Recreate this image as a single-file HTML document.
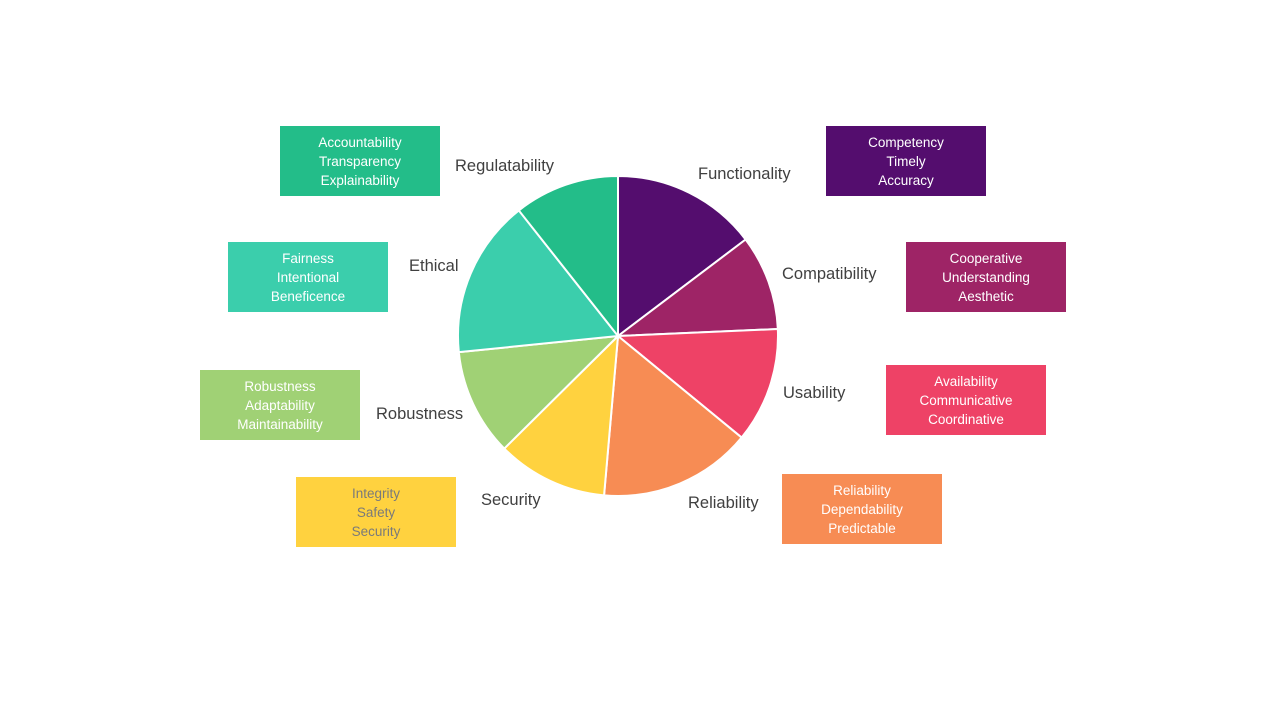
<!DOCTYPE html>
<html><head><meta charset="utf-8"><style>
body{margin:0;width:1280px;height:720px;background:#fff;overflow:hidden;font-family:"Liberation Sans",sans-serif}
.box{position:absolute;width:160px;height:70px;color:#fff;font-size:13.5px;line-height:19px;text-align:center;display:flex;flex-direction:column;justify-content:center}
.lbl{position:absolute;font-size:16.5px;color:#404040;white-space:nowrap}
</style></head><body>
<svg id="pie" width="1280" height="720" style="position:absolute;left:0;top:0"></svg>
<div class="lbl" style="left:698px;top:165px">Functionality</div>
<div class="lbl" style="left:782px;top:265px">Compatibility</div>
<div class="lbl" style="left:783px;top:384px">Usability</div>
<div class="lbl" style="left:688px;top:494px">Reliability</div>
<div class="lbl" style="left:481px;top:491px">Security</div>
<div class="lbl" style="left:376px;top:405px">Robustness</div>
<div class="lbl" style="left:409px;top:257px">Ethical</div>
<div class="lbl" style="left:455px;top:157px">Regulatability</div>
<div class="box" style="left:826px;top:126px;background:#540D6E">Competency<br>Timely<br>Accuracy</div>
<div class="box" style="left:906px;top:242px;background:#9E2466">Cooperative<br>Understanding<br>Aesthetic</div>
<div class="box" style="left:886px;top:365px;background:#EE4266">Availability<br>Communicative<br>Coordinative</div>
<div class="box" style="left:782px;top:474px;background:#F78C54">Reliability<br>Dependability<br>Predictable</div>
<div class="box" style="left:296px;top:477px;background:#FFD23F;color:#7a7a7a">Integrity<br>Safety<br>Security</div>
<div class="box" style="left:200px;top:370px;background:#A0D175">Robustness<br>Adaptability<br>Maintainability</div>
<div class="box" style="left:228px;top:242px;background:#3BCEAC">Fairness<br>Intentional<br>Beneficence</div>
<div class="box" style="left:280px;top:126px;background:#23BD89">Accountability<br>Transparency<br>Explainability</div>
<script>
const categories=["Functionality","Compatibility","Usability","Reliability","Security","Robustness","Ethical","Regulatability"];
const values=[52.9,34.6,41.9,55.6,40.3,38.9,57.5,38.3];
const colors=["#540D6E","#9E2466","#EE4266","#F78C54","#FFD23F","#A0D175","#3BCEAC","#23BD89"];
const svg=document.getElementById('pie');
const cx=618,cy=336,r=160;
const total=values.reduce((a,b)=>a+b,0);
let a0=0;
function pt(a){return [cx+r*Math.sin(a),cy-r*Math.cos(a)];}
values.forEach((v,i)=>{
  const a1=a0+v/total*2*Math.PI;
  const p0=pt(a0),p1=pt(a1);
  const large=(a1-a0)>Math.PI?1:0;
  const p=document.createElementNS('http://www.w3.org/2000/svg','path');
  p.setAttribute('d',`M${cx},${cy}L${p0[0]},${p0[1]}A${r},${r} 0 ${large} 1 ${p1[0]},${p1[1]}Z`);
  p.setAttribute('fill',colors[i]);
  p.setAttribute('stroke','#fff');
  p.setAttribute('stroke-width','2');
  
  
  svg.appendChild(p);
  a0=a1;
});
</script>
</body></html>
